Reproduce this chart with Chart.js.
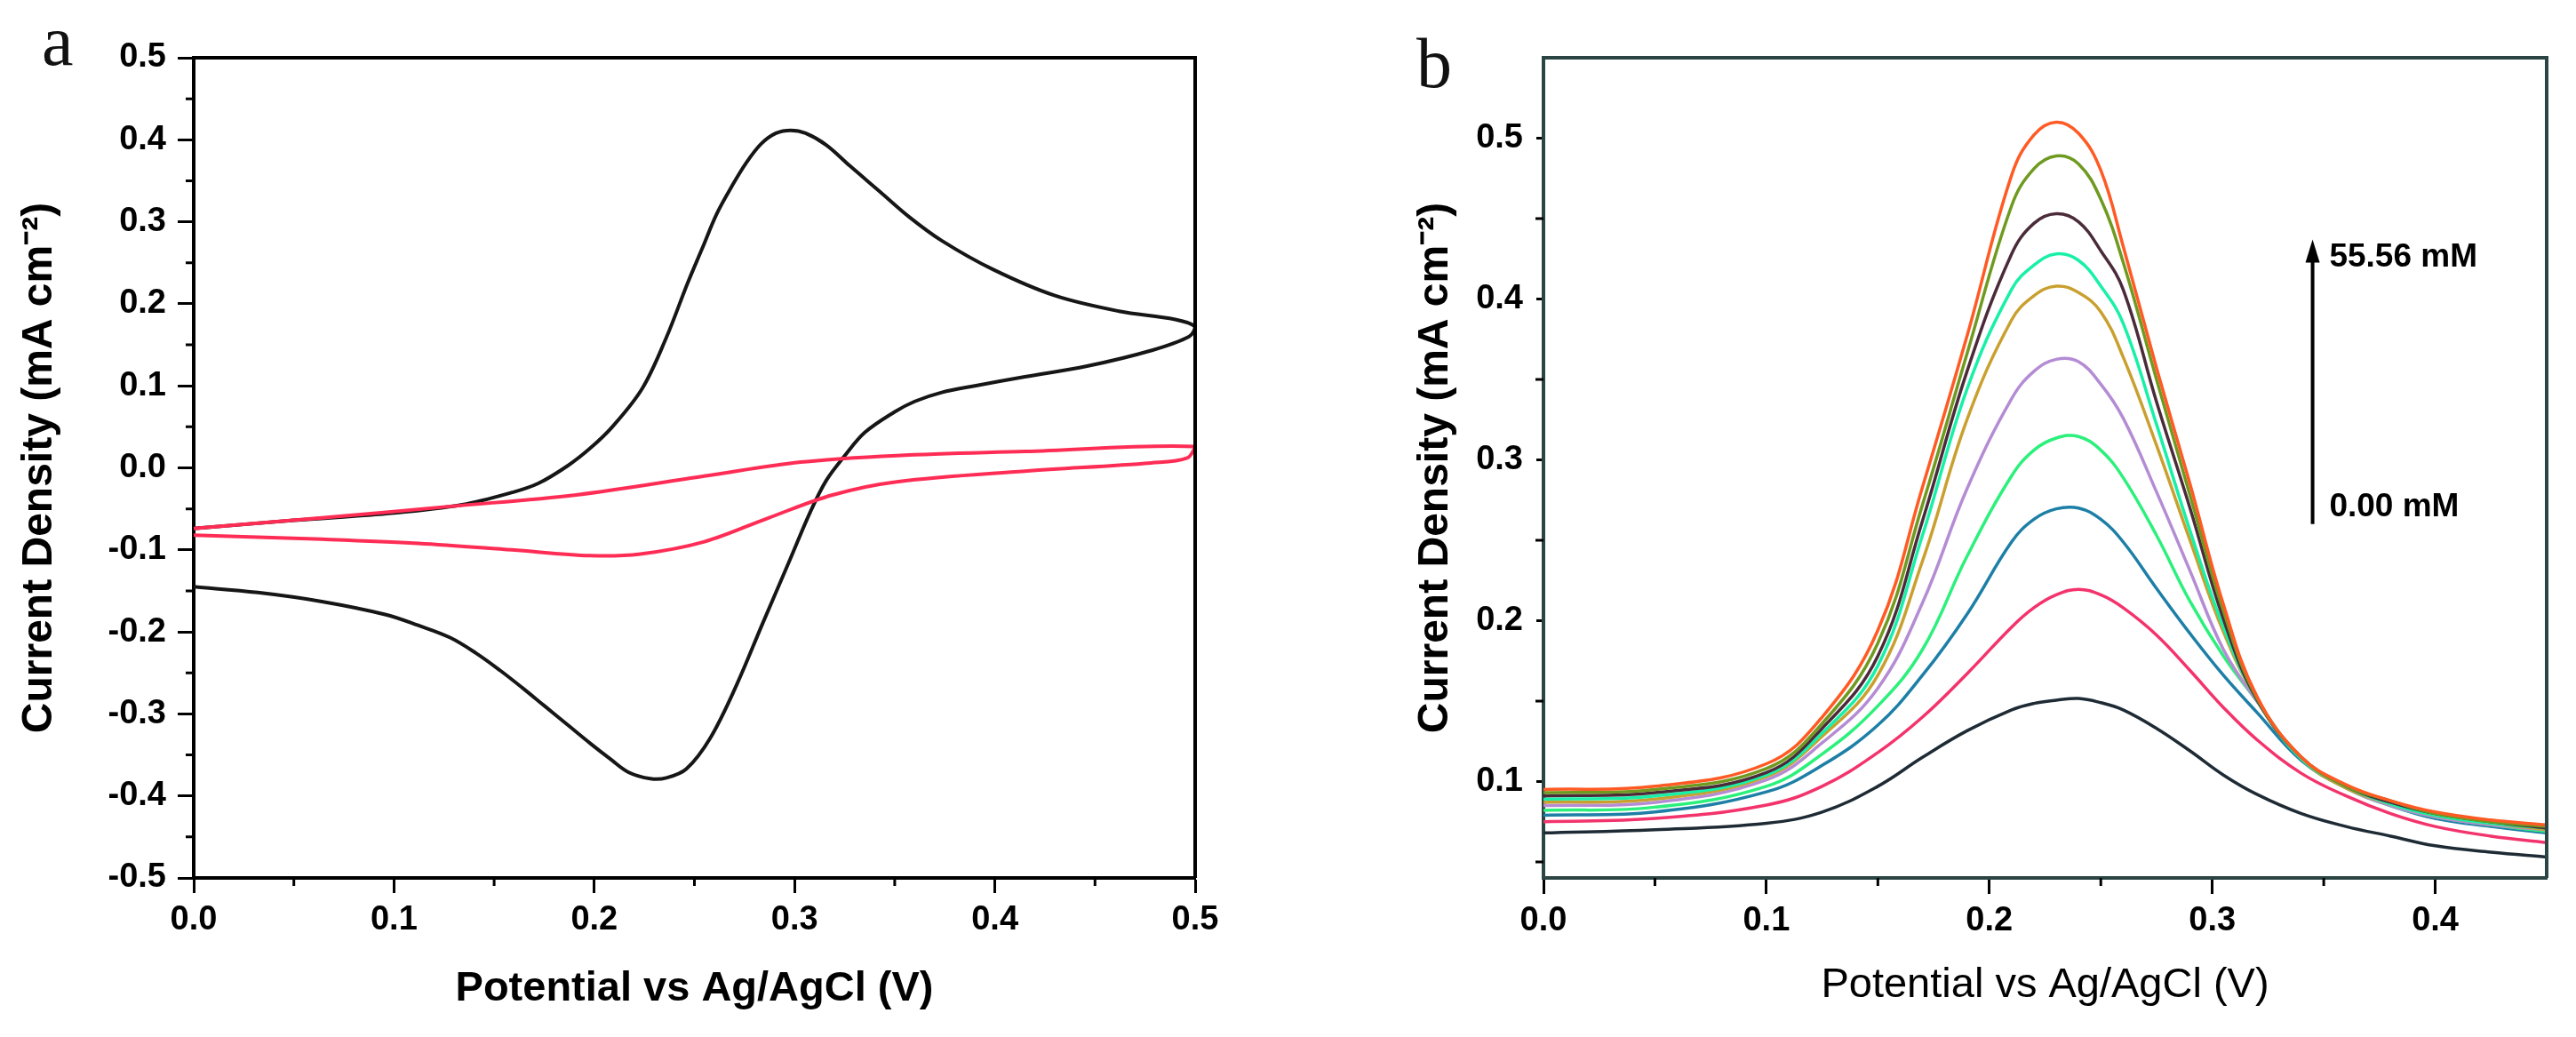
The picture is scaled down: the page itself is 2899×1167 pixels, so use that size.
<!DOCTYPE html>
<html>
<head>
<meta charset="utf-8">
<script src="https://cdn.jsdelivr.net/npm/chart.js@4.4.1/dist/chart.umd.min.js"></script>
<style>
  html, body { margin: 0; padding: 0; background: #fff; overflow: hidden; }
  #page { position: relative; width: 2899px; height: 1167px; }
  canvas { position: absolute; top: 0; }
  #cvChart { left: 0; }
  #dpvChart { left: 1550px; }
</style>
</head>
<body>
<div id="page">
  <canvas id="cvChart" width="1400" height="1167"></canvas>
  <canvas id="dpvChart" width="1349" height="1167"></canvas>
</div>
<script>
/* Panel a data: CV loops, kept in scan order (forward then reverse) */
let cvBlackPotential = [0, 0.05, 0.1, 0.134, 0.159, 0.172, 0.187, 0.198, 0.209, 0.224, 0.236, 0.2464, 0.2538, 0.2612, 0.2686, 0.2759, 0.2833, 0.2907, 0.2981, 0.3055, 0.3159, 0.3277, 0.3425, 0.3572, 0.3735, 0.399, 0.430, 0.462, 0.490, 0.5,
    0.497, 0.478, 0.446, 0.415, 0.39, 0.3735, 0.36, 0.3498, 0.335, 0.3248, 0.3159, 0.308, 0.297, 0.284, 0.271, 0.258, 0.246, 0.236, 0.228, 0.217, 0.208, 0.198, 0.187, 0.175, 0.164, 0.153, 0.141, 0.128, 0.112, 0.096, 0.064, 0.032, 0];
let cvBlackCurrent = [-0.074, -0.064, -0.055, -0.045, -0.030, -0.019, 0.003, 0.024, 0.050, 0.097, 0.159, 0.224, 0.267, 0.310, 0.343, 0.372, 0.395, 0.408, 0.4115, 0.408, 0.3935, 0.368, 0.337, 0.306, 0.277, 0.242, 0.210, 0.191, 0.181, 0.172,
    0.160, 0.143, 0.124, 0.111, 0.100, 0.092, 0.081, 0.068, 0.043, 0.014, -0.015, -0.053, -0.116, -0.190, -0.265, -0.329, -0.367, -0.378, -0.379, -0.371, -0.355, -0.336, -0.314, -0.290, -0.268, -0.247, -0.226, -0.207, -0.192, -0.179, -0.163, -0.152, -0.145];

let cvRedPotential = [0, 0.064, 0.128, 0.191, 0.255, 0.303, 0.351, 0.415, 0.5,
    0.496, 0.478, 0.415, 0.351, 0.319, 0.287, 0.255, 0.223, 0.198, 0.159, 0.112, 0.064, 0];
let cvRedCurrent = [-0.074, -0.061, -0.047, -0.033, -0.010, 0.007, 0.015, 0.020, 0.026,
    0.012, 0.006, -0.004, -0.017, -0.033, -0.061, -0.090, -0.105, -0.107, -0.100, -0.092, -0.087, -0.082];

let cvTicksX = [0, 0.1, 0.2, 0.3, 0.4, 0.5];
let cvMinorX = [0.05, 0.15, 0.25, 0.35, 0.45];
let cvTicksY = [-0.5, -0.4, -0.3, -0.2, -0.1, 0, 0.1, 0.2, 0.3, 0.4, 0.5];
let cvMinorY = [-0.45, -0.35, -0.25, -0.15, -0.05, 0.05, 0.15, 0.25, 0.35, 0.45];

/* Panel b data: DPV curves, 0.00 mM (black) up to 55.56 mM (orange) */
let dpvPotential = [0, 0.05, 0.1, 0.125, 0.15, 0.17, 0.19, 0.21, 0.22, 0.23, 0.24, 0.25, 0.26, 0.275, 0.29, 0.305, 0.32, 0.34, 0.36, 0.38, 0.4, 0.425, 0.45];

let dpvOrange = [0.095, 0.097, 0.111, 0.140, 0.194, 0.283, 0.377, 0.477, 0.502, 0.510, 0.503, 0.480, 0.433, 0.357, 0.285, 0.210, 0.153, 0.115, 0.098, 0.088, 0.081, 0.076, 0.073];
let dpvOlive = [0.093, 0.095, 0.108, 0.136, 0.186, 0.272, 0.366, 0.458, 0.481, 0.489, 0.484, 0.462, 0.423, 0.350, 0.278, 0.206, 0.152, 0.115, 0.097, 0.088, 0.080, 0.075, 0.072];
let dpvMaroon = [0.091, 0.093, 0.1055, 0.133, 0.178, 0.262, 0.355, 0.428, 0.447, 0.453, 0.448, 0.430, 0.406, 0.336, 0.270, 0.201, 0.151, 0.115, 0.097, 0.087, 0.080, 0.075, 0.071];
let dpvAqua = [0.089, 0.091, 0.104, 0.130, 0.172, 0.253, 0.344, 0.406, 0.421, 0.428, 0.424, 0.408, 0.385, 0.322, 0.256, 0.196, 0.151, 0.114, 0.097, 0.086, 0.079, 0.074, 0.071];
let dpvGold = [0.087, 0.089, 0.103, 0.128, 0.166, 0.237, 0.325, 0.387, 0.402, 0.408, 0.404, 0.392, 0.364, 0.309, 0.250, 0.193, 0.151, 0.114, 0.096, 0.086, 0.079, 0.074, 0.070];
let dpvPurple = [0.085, 0.087, 0.101, 0.124, 0.158, 0.211, 0.282, 0.338, 0.355, 0.3625, 0.361, 0.347, 0.326, 0.280, 0.231, 0.182, 0.150, 0.114, 0.096, 0.085, 0.078, 0.073, 0.070];
let dpvGreen = [0.082, 0.084, 0.097, 0.117, 0.147, 0.182, 0.240, 0.290, 0.306, 0.3135, 0.3145, 0.306, 0.289, 0.253, 0.212, 0.178, 0.150, 0.114, 0.096, 0.085, 0.078, 0.073, 0.069];
let dpvBlue = [0.079, 0.081, 0.0935, 0.110, 0.135, 0.166, 0.204, 0.249, 0.263, 0.2695, 0.270, 0.263, 0.249, 0.220, 0.192, 0.166, 0.143, 0.113, 0.096, 0.085, 0.077, 0.072, 0.068];
let dpvPink = [0.075, 0.077, 0.0853, 0.097, 0.118, 0.140, 0.167, 0.196, 0.208, 0.216, 0.2195, 0.216, 0.208, 0.191, 0.169, 0.146, 0.126, 0.105, 0.091, 0.080, 0.072, 0.066, 0.062];
let dpvBlack = [0.068, 0.070, 0.074, 0.081, 0.097, 0.115, 0.1315, 0.1445, 0.1485, 0.1505, 0.1516, 0.149, 0.1445, 0.133, 0.119, 0.104, 0.092, 0.080, 0.072, 0.066, 0.060, 0.056, 0.053];

let dpvTicksX = [0, 0.1, 0.2, 0.3, 0.4];
let dpvMinorX = [0.05, 0.15, 0.25, 0.35];
let dpvTicksY = [0.1, 0.2, 0.3, 0.4, 0.5];
let dpvMinorY = [0.05, 0.15, 0.25, 0.35, 0.45];

/* Concentration arrow (data units) */
let arrowPotential = 0.345;
let arrowCurrent = [0.26, 0.437];
let concLabels = ["0.00 mM", "55.56 mM"];
let concLabelPotential = 0.3525;
let concLabelCurrent = [0.2704, 0.4257];

/* Helpers */
function toPoints(xs, ys) {
    return xs.map(function (x, i) { return { x: x, y: ys[i] }; });
}

function fixedTicks(values) {
    return function (scale) {
        scale.ticks = values.map(function (v) { return { value: v }; });
    };
}

function curve(xs, ys, color, width, extra) {
    let ds = {
        data: toPoints(xs, ys),
        borderColor: color,
        backgroundColor: color,
        borderWidth: width,
        pointRadius: 0,
        fill: false
    };
    return Object.assign(ds, extra || {});
}

/* Frame on top/right, minor ticks and panel letter */
function panelExtras(cfg) {
    return {
        id: "panelExtras",
        afterDraw: function (chart) {
            let ctx = chart.ctx;
            let area = chart.chartArea;
            let sx = chart.scales.x;
            let sy = chart.scales.y;
            ctx.save();
            ctx.strokeStyle = cfg.frameColor;
            ctx.lineWidth = 4;
            ctx.beginPath();
            ctx.moveTo(area.left, area.top);
            ctx.lineTo(area.right, area.top);
            ctx.lineTo(area.right, area.bottom);
            ctx.stroke();

            ctx.strokeStyle = "#000";
            ctx.lineWidth = 3;
            ctx.beginPath();
            cfg.minorX.forEach(function (v) {
                let px = sx.getPixelForValue(v);
                ctx.moveTo(px, area.bottom);
                ctx.lineTo(px, area.bottom + 9);
            });
            cfg.minorY.forEach(function (v) {
                let py = sy.getPixelForValue(v);
                ctx.moveTo(area.left, py);
                ctx.lineTo(area.left - 9, py);
            });
            ctx.stroke();

            ctx.fillStyle = "#111";
            ctx.font = '80px "Liberation Serif"';
            ctx.textAlign = "left";
            ctx.textBaseline = "alphabetic";
            ctx.fillText(cfg.letter, cfg.letterX, cfg.letterY);

            if (cfg.arrow) {
                let px = sx.getPixelForValue(arrowPotential);
                let yLow = sy.getPixelForValue(arrowCurrent[0]);
                let yHigh = sy.getPixelForValue(arrowCurrent[1]);
                ctx.strokeStyle = "#000";
                ctx.lineWidth = 4;
                ctx.beginPath();
                ctx.moveTo(px, yLow);
                ctx.lineTo(px, yHigh + 20);
                ctx.stroke();
                ctx.fillStyle = "#000";
                ctx.beginPath();
                ctx.moveTo(px, yHigh);
                ctx.lineTo(px - 8, yHigh + 26);
                ctx.lineTo(px + 8, yHigh + 26);
                ctx.closePath();
                ctx.fill();
                ctx.font = 'bold 37px "Liberation Sans"';
                ctx.textBaseline = "middle";
                let lx = sx.getPixelForValue(concLabelPotential);
                concLabels.forEach(function (t, i) {
                    ctx.fillText(t, lx, sy.getPixelForValue(concLabelCurrent[i]));
                });
            }
            ctx.restore();
        }
    };
}

let tickFont = { family: "Liberation Sans", size: 38, weight: "bold" };
let yTitleFont = { family: "Liberation Sans", size: 48, weight: "bold" };

/* Panel a: cyclic voltammetry */
new Chart("cvChart", {
    type: "line",
    data: {
        datasets: [
            curve(cvRedPotential, cvRedCurrent, "#ff2d55", 4, { tension: 0.35 }),
            curve(cvBlackPotential, cvBlackCurrent, "#161616", 4, { tension: 0.35 })
        ]
    },
    options: {
        responsive: false,
        animation: false,
        devicePixelRatio: 1,
        layout: { padding: { top: 65, right: 55, left: 0, bottom: 0 } },
        plugins: { legend: { display: false }, tooltip: { enabled: false } },
        scales: {
            x: {
                type: "linear",
                min: 0,
                max: 0.5,
                afterBuildTicks: fixedTicks(cvTicksX),
                afterFit: function (s) { s.height = 179; },
                ticks: { font: tickFont, color: "#000", padding: 8, maxRotation: 0,
                    callback: function (v) { return v.toFixed(1); } },
                grid: { drawOnChartArea: false, tickLength: 17, tickWidth: 3, tickColor: "#000" },
                border: { color: "#000", width: 4 },
                title: { display: true, text: "Potential vs Ag/AgCl (V)", color: "#000",
                    font: { family: "Liberation Sans", size: 47, weight: "bold" }, padding: { top: 0, bottom: 26 } }
            },
            y: {
                min: -0.5,
                max: 0.5,
                afterBuildTicks: fixedTicks(cvTicksY),
                afterFit: function (s) { s.width = 218; },
                ticks: { font: tickFont, color: "#000", padding: 13,
                    callback: function (v) { return v.toFixed(1); } },
                grid: { drawOnChartArea: false, tickLength: 18, tickWidth: 3, tickColor: "#000" },
                border: { color: "#000", width: 4 },
                title: { display: true, text: "Current Density (mA cm⁻²)", color: "#000",
                    font: yTitleFont, padding: { top: 16, bottom: 0 } }
            }
        }
    },
    plugins: [panelExtras({ frameColor: "#000", minorX: cvMinorX, minorY: cvMinorY, letter: "a", letterX: 47, letterY: 73 })]
});

/* Panel b: differential pulse voltammetry */
let dpvSeries = [
    [dpvOrange, "#ff5a24"],
    [dpvOlive, "#6f9a20"],
    [dpvMaroon, "#4b2b3a"],
    [dpvAqua, "#18f0a8"],
    [dpvGold, "#c9a030"],
    [dpvPurple, "#b48cd4"],
    [dpvGreen, "#2cf07c"],
    [dpvBlue, "#1d7fa6"],
    [dpvPink, "#f3336c"],
    [dpvBlack, "#1e2b35"]
];

new Chart("dpvChart", {
    type: "line",
    data: {
        datasets: dpvSeries.map(function (s) {
            return curve(dpvPotential, s[0], s[1], 3.5, { tension: 0.4 });
        })
    },
    options: {
        responsive: false,
        animation: false,
        devicePixelRatio: 1,
        layout: { padding: { top: 65, right: 33, left: 0, bottom: 0 } },
        plugins: { legend: { display: false }, tooltip: { enabled: false } },
        scales: {
            x: {
                type: "linear",
                min: 0,
                max: 0.45,
                afterBuildTicks: fixedTicks(dpvTicksX),
                afterFit: function (s) { s.height = 179; },
                ticks: { font: tickFont, color: "#000", padding: 8, maxRotation: 0,
                    callback: function (v) { return v.toFixed(1); } },
                grid: { drawOnChartArea: false, tickLength: 18, tickWidth: 3, tickColor: "#000" },
                border: { color: "#2b4545", width: 4 },
                title: { display: true, text: "Potential vs Ag/AgCl (V)", color: "#000",
                    font: { family: "Liberation Sans", size: 47, weight: "normal" }, padding: { top: 0, bottom: 30 } }
            },
            y: {
                min: 0.04,
                max: 0.55,
                afterBuildTicks: fixedTicks(dpvTicksY),
                afterFit: function (s) { s.width = 187; },
                ticks: { font: tickFont, color: "#000", padding: 15,
                    callback: function (v) { return v.toFixed(1); } },
                grid: { drawOnChartArea: false, tickLength: 8, tickWidth: 3, tickColor: "#000" },
                border: { color: "#2b4545", width: 4 },
                title: { display: true, text: "Current Density (mA cm⁻²)", color: "#000",
                    font: yTitleFont, padding: { top: 37, bottom: 0 } }
            }
        }
    },
    plugins: [panelExtras({ frameColor: "#2b4545", minorX: dpvMinorX, minorY: dpvMinorY, letter: "b", letterX: 44, letterY: 98, arrow: true })]
});
</script>
</body>
</html>
